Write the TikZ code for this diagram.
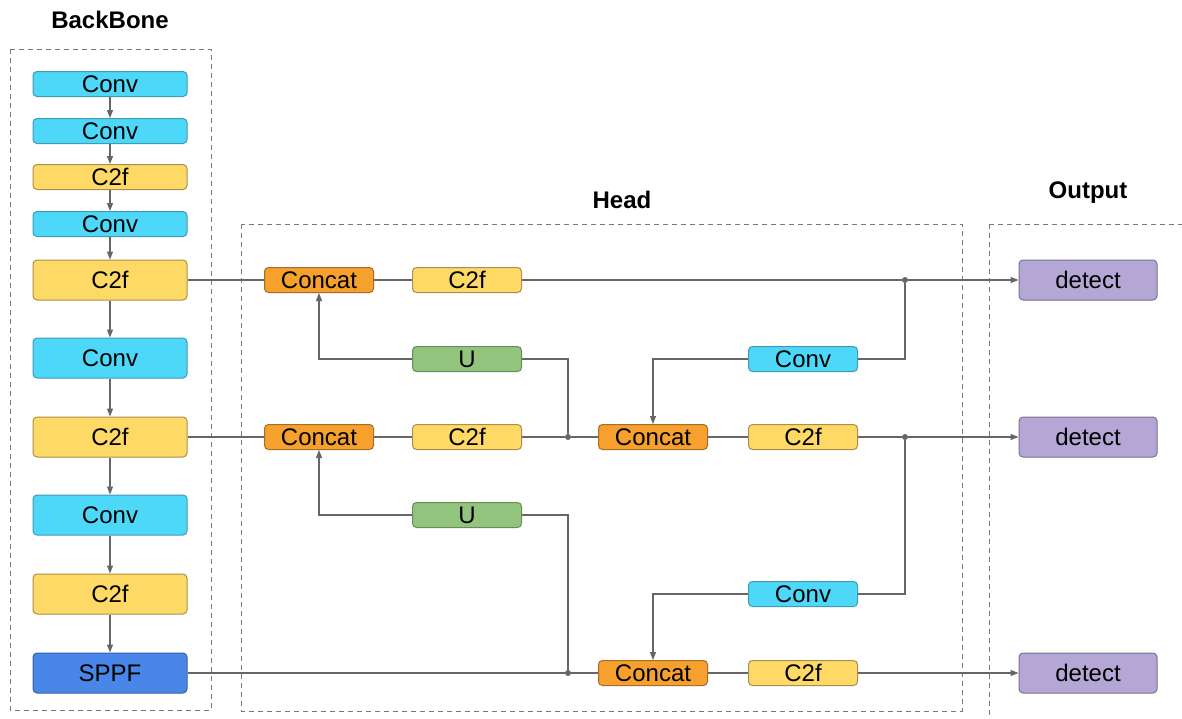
\documentclass[tikz,border=0pt]{standalone}
\usepackage{fontspec}
\setmainfont{Liberation Sans}
\usetikzlibrary{arrows.meta}
\definecolor{convc}{HTML}{4DD8F9}
\definecolor{convd}{HTML}{3F9AB3}
\definecolor{c2fc}{HTML}{FFD966}
\definecolor{c2fd}{HTML}{A8904A}
\definecolor{catc}{HTML}{F6A02D}
\definecolor{catd}{HTML}{A86C24}
\definecolor{upc}{HTML}{93C47D}
\definecolor{upd}{HTML}{688E58}
\definecolor{sppfc}{HTML}{4A86E8}
\definecolor{sppfd}{HTML}{3562AA}
\definecolor{detc}{HTML}{B4A7D6}
\definecolor{detd}{HTML}{7A7192}
\definecolor{lnc}{HTML}{666666}
\definecolor{dashc}{HTML}{7A7A7A}
\tikzset{
  blk/.style={rounded corners=4pt, line width=1pt, inner sep=0pt, font=\fontsize{24}{25}\selectfont, text=black},
  bsm/.style={blk, minimum width=154pt, minimum height=25pt},
  bbg/.style={blk, minimum width=154pt, minimum height=40pt},
  hsm/.style={blk, minimum width=109pt, minimum height=25pt},
  detbox/.style={blk, minimum width=138pt, minimum height=40pt, fill=detc, draw=detd},
  convs/.style={fill=convc, draw=convd},
  c2fs/.style={fill=c2fc, draw=c2fd},
  cats/.style={fill=catc, draw=catd},
  ups/.style={fill=upc, draw=upd},
  sppfs/.style={fill=sppfc, draw=sppfd},
  ln/.style={draw=lnc, line width=1.1pt},
  arr/.style={ln, -{Triangle[length=8pt,width=6pt]}},
  dot/.style={circle, fill=lnc, inner sep=0pt, minimum size=6pt},
  group/.style={draw=dashc, line width=1pt, dash pattern=on 5pt off 4pt},
  ttl/.style={font=\bfseries\fontsize{24}{25}\selectfont}
}
\begin{document}
\begin{tikzpicture}[x=1pt,y=-1pt]
\clip (0,0) rectangle (1182,718);
\fill[white] (0,0) rectangle (1182,718);
% groups
\draw[group] (10,49) rectangle (211,710);
\draw[group] (241,224) rectangle (962,711);
\draw[group] (989,224) rectangle (1200,740);
\node[ttl] (tb) at (110,20) {BackBone};
\node[ttl] (th) at (622,200) {Head};
\node[ttl] (to) at (1088,193) {Output};
% backbone
\node[bsm,convs] (b1) at (110,84) {Conv};
\node[bsm,convs] (b2) at (110,131) {Conv};
\node[bsm,c2fs] (b3) at (110,177) {C2f};
\node[bsm,convs] (b4) at (110,224) {Conv};
\node[bbg,c2fs] (b5) at (110,280) {C2f};
\node[bbg,convs] (b6) at (110,358) {Conv};
\node[bbg,c2fs] (b7) at (110,437) {C2f};
\node[bbg,convs] (b8) at (110,515) {Conv};
\node[bbg,c2fs] (b9) at (110,594) {C2f};
\node[bbg,sppfs] (b10) at (110,673) {SPPF};
\foreach \a/\b in {b1/b2,b2/b3,b3/b4,b4/b5,b5/b6,b6/b7,b7/b8,b8/b9,b9/b10}
  \draw[arr] (\a) -- (\b);
% head
\node[hsm,cats] (cc1) at (319,280) {Concat};
\node[hsm,c2fs] (h1) at (467,280) {C2f};
\node[hsm,ups] (u1) at (467,359) {U};
\node[hsm,cats] (cc2) at (319,437) {Concat};
\node[hsm,c2fs] (h2) at (467,437) {C2f};
\node[hsm,cats] (cc3) at (653,437) {Concat};
\node[hsm,c2fs] (h3) at (803,437) {C2f};
\node[hsm,convs] (cv1) at (803,359) {Conv};
\node[hsm,ups] (u2) at (467,515) {U};
\node[hsm,convs] (cv2) at (803,594) {Conv};
\node[hsm,cats] (cc4) at (653,673) {Concat};
\node[hsm,c2fs] (h4) at (803,673) {C2f};
% outputs
\node[detbox] (d1) at (1088,280) {detect};
\node[detbox] (d2) at (1088,437) {detect};
\node[detbox] (d3) at (1088,673) {detect};
% junctions
\node[dot] (j1) at (905,280) {};
\node[dot] (j2) at (905,437) {};
\node[dot] (j3) at (568,437) {};
\node[dot] (j4) at (568,673) {};
% row 1
\draw[ln] (b5) -- (cc1);
\draw[ln] (cc1) -- (h1);
\draw[ln] (h1) -- (j1);
\draw[arr] (j1) -- (d1);
\draw[ln] (j1) |- (cv1);
\draw[arr] (cv1) -| (cc3);
\draw[ln] (j3) |- (u1);
\draw[arr] (u1) -| (cc1);
% row 2
\draw[ln] (b7) -- (cc2);
\draw[ln] (cc2) -- (h2);
\draw[ln] (h2) -- (j3);
\draw[ln] (j3) -- (cc3);
\draw[ln] (cc3) -- (h3);
\draw[ln] (h3) -- (j2);
\draw[arr] (j2) -- (d2);
\draw[ln] (j2) |- (cv2);
\draw[arr] (cv2) -| (cc4);
\draw[ln] (j4) |- (u2);
\draw[arr] (u2) -| (cc2);
% row 3
\draw[ln] (b10) -- (j4);
\draw[ln] (j4) -- (cc4);
\draw[ln] (cc4) -- (h4);
\draw[arr] (h4) -- (d3);
\end{tikzpicture}
\end{document}
